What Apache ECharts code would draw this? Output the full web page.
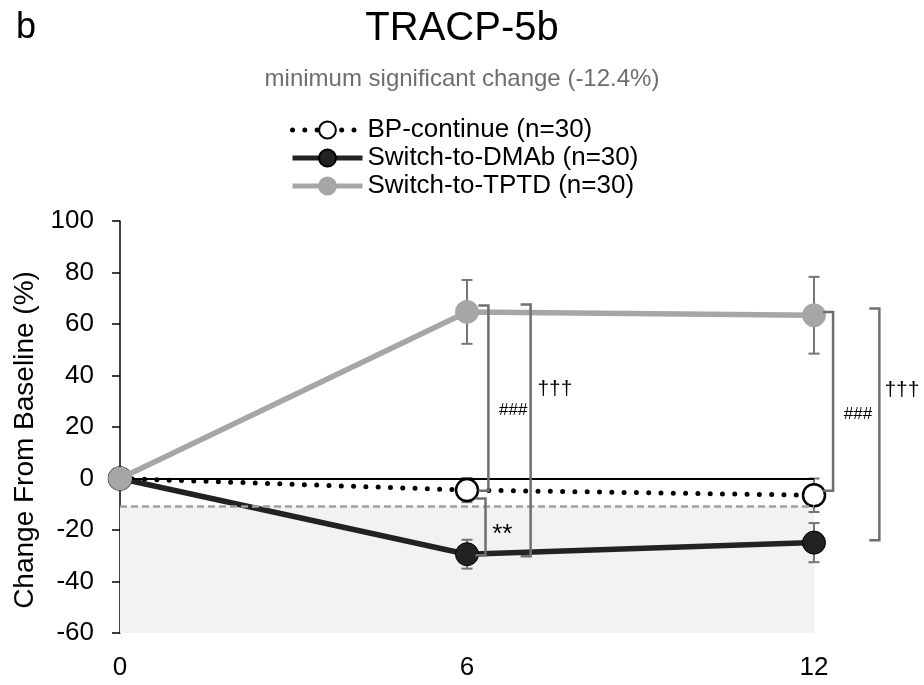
<!DOCTYPE html>
<html><head><meta charset="utf-8">
<script src="https://cdn.jsdelivr.net/npm/echarts@6/dist/echarts.min.js"></script>
<style>html,body{margin:0;padding:0;background:#fff}#c{width:924px;height:685px}</style>
</head><body><div id="c"></div>
<script>
// ---- data ----
const months = [0, 6, 12];
const seriesNames = ['BP-continue (n=30)', 'Switch-to-DMAb (n=30)', 'Switch-to-TPTD (n=30)'];
const bpMean = [0, -4.5, -6.5];
const bpErr = [0, 4.7, 6.5];
const dmabMean = [0, -29.4, -24.9];
const dmabErr = [0, 5.6, 7.6];
const tptdMean = [0, 64.7, 63.4];
const tptdErr = [0, 12.4, 14.9];
const xTicks = [0, 6, 12];
const yMin = -60, yMax = 100, yStep = 20;
const mscValue = -10.6;      // dashed "minimum significant change" line
const shadeBottom = -61.5;
// significance brackets: x (months), top value, bottom value
const bracketX = [6.37, 7.10, 6.32, 12.33, 13.13];
const bracketTop = [67.2, 67.6, -7.8, 64.7, 66.0];
const bracketBottom = [-4.8, -30.2, -29.8, -4.8, -24.0];
// annotation labels
const annText = ['###', '\u2020\u2020\u2020', '**', '###', '\u2020\u2020\u2020'];
const annX = [6.80, 7.52, 6.61, 12.76, 13.52];
const annY = [26.5, 34.6, -22.0, 24.9, 34.2];

const FONT = '"Liberation Sans", Arial, sans-serif';
const pairs = (xs, ys) => xs.map((x, i) => [x, ys[i]]);
const errData = (xs, m, e) => xs.map((x, i) => [x, m[i] - e[i], m[i] + e[i]]).filter((d, i) => e[i] > 0);

function errRender(params, api) {
  const x = api.value(0), lo = api.value(1), hi = api.value(2);
  const p1 = api.coord([x, hi]), p2 = api.coord([x, lo]);
  const hw = 5.5;
  const st = { stroke: '#767676', lineWidth: 2, fill: null };
  return { type: 'group', children: [
    { type: 'line', shape: { x1: p1[0], y1: p1[1], x2: p2[0], y2: p2[1] }, style: st },
    { type: 'line', shape: { x1: p1[0] - hw, y1: p1[1], x2: p1[0] + hw, y2: p1[1] }, style: st },
    { type: 'line', shape: { x1: p2[0] - hw, y1: p2[1], x2: p2[0] + hw, y2: p2[1] }, style: st }
  ]};
}
function bracketRender(params, api) {
  const x = api.value(0), t = api.value(1), b = api.value(2);
  const pt = api.coord([x, t]), pb = api.coord([x, b]);
  return { type: 'polyline', shape: { points: [[pt[0] - 10, pt[1]], [pt[0], pt[1]], [pb[0], pb[1]], [pb[0] - 10, pb[1]]] },
    style: { stroke: '#6f6f6f', lineWidth: 2.5, fill: null } };
}
function annRender(params, api) {
  const p = api.coord([api.value(0), api.value(1)]);
  const t = annText[params.dataIndex];
  const size = t === '###' ? 17 : (t === '**' ? 26 : 21);
  return { type: 'text', x: p[0], y: p[1], style: { text: t, fill: '#000', font: size + 'px ' + FONT, align: 'center', verticalAlign: 'middle' } };
}

const chart = echarts.init(document.getElementById('c'), null, { renderer: 'canvas' });
chart.setOption({
  animation: false,
  backgroundColor: '#fff',
  textStyle: { fontFamily: FONT },
  title: [
    { text: 'b', left: 16, top: 10, padding: 0, textStyle: { fontSize: 36, fontWeight: 'normal', color: '#000', fontFamily: FONT } },
    { text: 'TRACP-5b', left: 'center', top: 9, padding: 0, textStyle: { fontSize: 40, fontWeight: 'normal', color: '#000', fontFamily: FONT } },
    { text: 'minimum significant change (-12.4%)', left: 'center', top: 67, padding: 0, textStyle: { fontSize: 24, fontWeight: 'normal', color: '#6e6e6e', fontFamily: FONT } }
  ],
  legend: {
    data: seriesNames, orient: 'vertical', left: 290, top: 117, padding: 0,
    itemWidth: 70, itemHeight: 21, itemGap: 2, selectedMode: false,
    lineStyle: { width: 5 },
    textStyle: { fontSize: 26, color: '#000', lineHeight: 26, fontFamily: FONT }
  },
  grid: { left: 120, right: 110, top: 221, bottom: 52 },
  xAxis: {
    type: 'value', min: xTicks[0], max: xTicks[xTicks.length - 1], interval: xTicks[1] - xTicks[0],
    axisLine: { show: false, onZero: false }, axisTick: { show: false }, splitLine: { show: false },
    axisLabel: { fontSize: 26, color: '#000', margin: 22 }
  },
  yAxis: {
    type: 'value', min: yMin, max: yMax, interval: yStep,
    axisLine: { show: true, onZero: false, lineStyle: { color: '#000', width: 1.5 } },
    axisTick: { show: true, length: 8, lineStyle: { color: '#000', width: 1.5 } },
    splitLine: { show: false },
    axisLabel: { fontSize: 26, color: '#000', margin: 26 },
    name: 'Change From Baseline (%)', nameLocation: 'middle', nameRotate: 90, nameGap: 76,
    nameTextStyle: { fontSize: 28, color: '#000', padding: [0, 26, 0, 0] }
  },
  series: [
    { name: 'helper', type: 'line', data: [], z: 0, clip: false, silent: true,
      markArea: { silent: true, itemStyle: { color: '#f2f2f2' },
        data: [[{ coord: [xTicks[0], mscValue] }, { coord: [xTicks[xTicks.length - 1], shadeBottom] }]] },
      markLine: { silent: true, symbol: 'none', label: { show: false },
        data: [
          { yAxis: mscValue, lineStyle: { color: '#a0a0a0', width: 2.5, type: [7, 4] } },
          { yAxis: 0, lineStyle: { color: '#000', width: 2, type: 'solid' } }
        ] }
    },
    { name: 'err', type: 'custom', z: 1, clip: false, silent: true, renderItem: errRender,
      data: [].concat(errData(months, bpMean, bpErr), errData(months, dmabMean, dmabErr), errData(months, tptdMean, tptdErr)) },
    { name: seriesNames[0], type: 'line', z: 3, clip: false, data: pairs(months, bpMean),
      symbol: 'circle', symbolSize: 22, showSymbol: true,
      lineStyle: { color: '#000', width: 5, type: [0, 12.3], cap: 'round' },
      itemStyle: { color: '#fff', borderColor: '#000', borderWidth: 2.5 } },
    { name: seriesNames[1], type: 'line', z: 4, clip: false, data: pairs(months, dmabMean),
      symbol: 'circle', symbolSize: 23,
      lineStyle: { color: '#222', width: 5.5 },
      itemStyle: { color: '#222', borderColor: '#000', borderWidth: 1 } },
    { name: seriesNames[2], type: 'line', z: 5, clip: false, data: pairs(months, tptdMean),
      symbol: 'circle', symbolSize: 23,
      lineStyle: { color: '#a6a6a6', width: 5.5 },
      itemStyle: { color: '#a6a6a6', borderColor: '#a6a6a6', borderWidth: 1 } },
    { name: 'brackets', type: 'custom', z: 6, clip: false, silent: true, renderItem: bracketRender,
      data: bracketX.map((x, i) => [x, bracketTop[i], bracketBottom[i]]) },
    { name: 'labels', type: 'custom', z: 7, clip: false, silent: true, renderItem: annRender,
      data: annX.map((x, i) => [x, annY[i]]) }
  ]
});
</script></body></html>
